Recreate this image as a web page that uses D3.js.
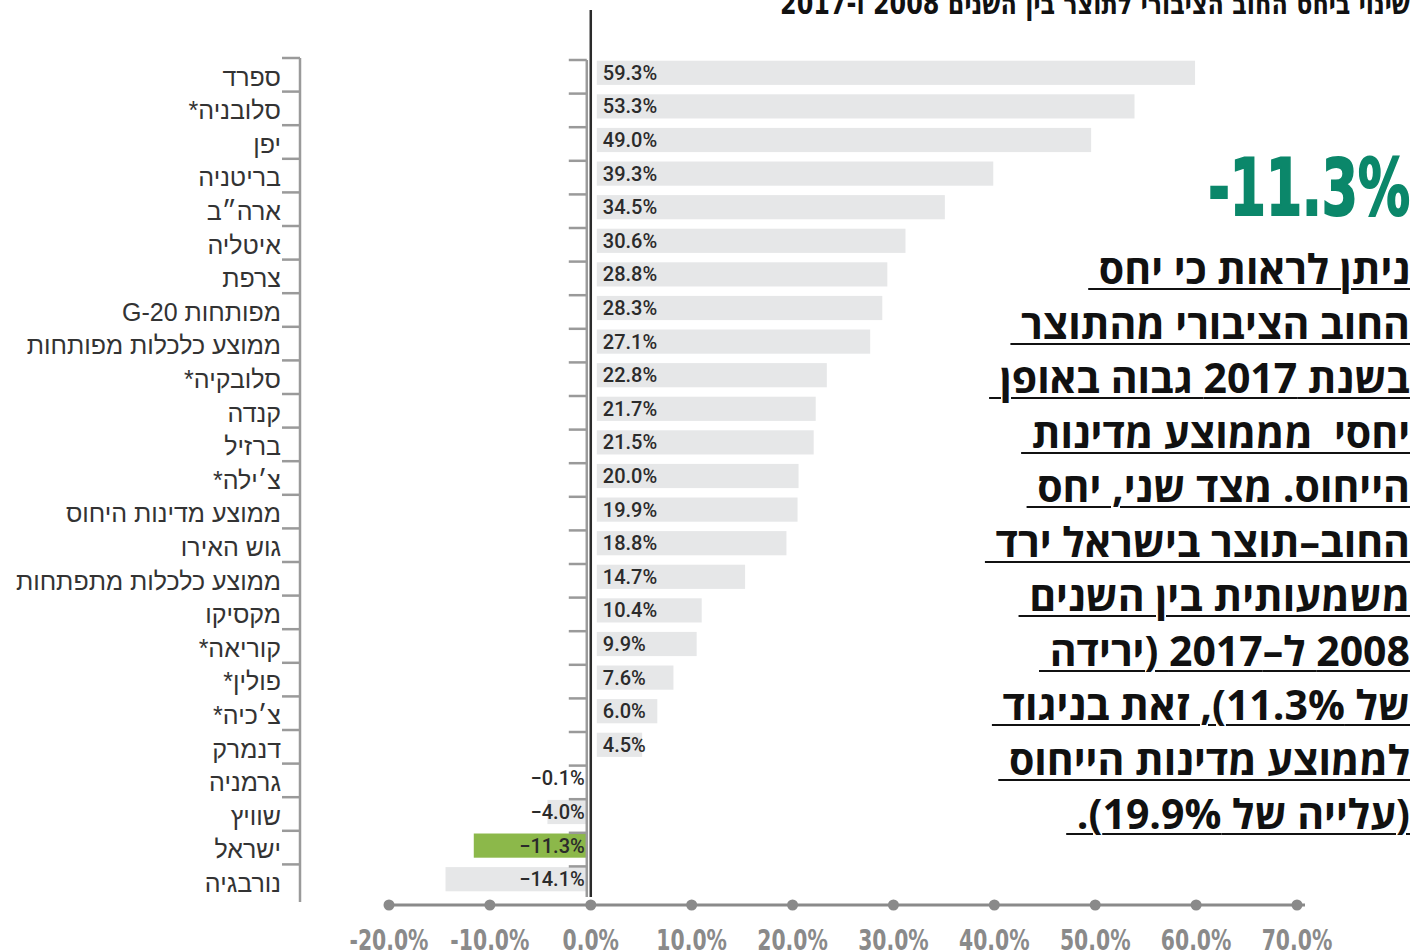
<!DOCTYPE html>
<html lang="he">
<head>
<meta charset="utf-8">
<script src="https://cdn.jsdelivr.net/npm/d3@7/dist/d3.min.js"></script>
<style>
  html, body { margin: 0; padding: 0; background: #fff; }
  #wrap { position: relative; width: 1413px; height: 952px; overflow: hidden; }
  svg { position: absolute; left: 0; top: 0; }
  #para { position: absolute; right: 3px; top: 241px; direction: rtl; text-align: right;
          font-family: "Open Sans", "DejaVu Sans", sans-serif; font-weight: 700; font-size: 41px;
          line-height: 54.5px; color: #111; }
  #para div { white-space: pre; height: 54.5px; }
  #para span { text-decoration: underline; text-decoration-thickness: 2px; text-underline-offset: 4px; }
</style>
</head>
<body>
<div id="wrap"></div>
<script>
// ---------- data ----------
const categories = [
  "ספרד", "סלובניה*", "יפן", "בריטניה", "ארה\u05F4ב", "איטליה", "צרפת", "מפותחות G-20",
  "ממוצע כלכלות מפותחות", "סלובקיה*", "קנדה", "ברזיל", "צ׳ילה*", "ממוצע מדינות היחוס",
  "גוש האירו", "ממוצע כלכלות מתפתחות", "מקסיקו", "קוריאה*", "פולין*", "צ׳כיה*", "דנמרק",
  "גרמניה", "שוויץ", "ישראל", "נורבגיה"
];
const values = [59.3, 53.3, 49.0, 39.3, 34.5, 30.6, 28.8, 28.3, 27.1, 22.8, 21.7, 21.5, 20.0,
  19.9, 18.8, 14.7, 10.4, 9.9, 7.6, 6.0, 4.5, -0.1, -4.0, -11.3, -14.1];
const highlight = "ישראל";
const xTicks = [-20, -10, 0, 10, 20, 30, 40, 50, 60, 70];
const title = "שינוי ביחס החוב הציבורי לתוצר בין השנים 2008 ו-2017";
const bigNumber = "-11.3%";
const paragraphLines = [
  "ניתן לראות כי יחס ",
  "החוב הציבורי מהתוצר ",
  "בשנת 2017 גבוה באופן ",
  "יחסי  מממוצע מדינות ",
  "הייחוס. מצד שני, יחס ",
  "החוב–תוצר בישראל ירד ",
  "משמעותית בין השנים ",
  "2008 ל–2017 (ירידה ",
  "של 11.3%), זאת בניגוד ",
  "לממוצע מדינות הייחוס ",
  "(עלייה של 19.9%). "
];

// ---------- layout ----------
const W = 1413, H = 952;
const data = categories.map((c, i) => ({ cat: c, val: values[i] }));
const wrap = d3.select("#wrap");
const svg = wrap.append("svg").attr("width", W).attr("height", H);

const x = d3.scaleLinear().domain([-20, 70]).range([389, 1297]);
const y = d3.scaleBand().domain(categories).range([58, 898]).paddingInner(0.28).paddingOuter(0.14);
const band = d3.scaleBand().domain(categories).range([58, 898]).padding(0);
const boundaries = categories.map(c => band(c)).concat([band.range()[1]]);

const fmt = v => (v < 0 ? "\u2212" : "") + Math.abs(v).toFixed(1) + "%";

// title (partly cut at top)
svg.append("text")
  .attr("x", 1410).attr("y", 14)
  .attr("direction", "rtl").attr("text-anchor", "start")
  .attr("textLength", 630).attr("lengthAdjust", "spacingAndGlyphs")
  .style("font-family", "'DejaVu Sans Condensed', 'DejaVu Sans', sans-serif")
  .style("font-weight", 700).style("font-size", "30px").attr("fill", "#111")
  .text(title);

// bars
svg.append("g").selectAll("rect").data(data).join("rect")
  .attr("x", d => d.val >= 0 ? x(0) + 6 : x(d.val) - 3)
  .attr("y", d => y(d.cat) - 2)
  .attr("width", d => Math.max(1, Math.abs(x(d.val) - x(0))))
  .attr("height", y.bandwidth())
  .attr("fill", d => d.cat === highlight ? "#8cb84a" : "#e6e7e8");

// inner gray ticks near zero
const zx = x(0);
svg.append("line").attr("x1", zx - 4).attr("x2", zx - 4)
  .attr("y1", boundaries[0] + 2).attr("y2", 897).attr("stroke", "#9a9a9a").attr("stroke-width", 2.5);
svg.append("g").selectAll("line").data(boundaries.slice(0, -1)).join("line")
  .attr("x1", zx - 22).attr("x2", zx - 4)
  .attr("y1", d => d + 2).attr("y2", d => d + 2)
  .attr("stroke", "#9a9a9a").attr("stroke-width", 2.5);

// zero line
svg.append("line").attr("x1", zx).attr("x2", zx).attr("y1", 10).attr("y2", 897)
  .attr("stroke", "#2b2b2b").attr("stroke-width", 2.5);

// bar value labels
svg.append("g").selectAll("text").data(data).join("text")
  .attr("x", d => d.val >= 0 ? x(0) + 12 : x(0) - 6)
  .attr("y", d => y(d.cat) - 2 + y.bandwidth() / 2 + 7)
  .attr("text-anchor", d => d.val >= 0 ? "start" : "end")
  .style("font-family", "Roboto, 'DejaVu Sans', sans-serif")
  .style("font-weight", 500).style("font-size", "20px").attr("fill", "#2b2b2b")
  .text(d => fmt(d.val));

// left category axis
const ax = 300;
svg.append("line").attr("x1", ax).attr("x2", ax).attr("y1", boundaries[0]).attr("y2", 902)
  .attr("stroke", "#9a9a9a").attr("stroke-width", 2.5);
svg.append("g").selectAll("line").data(boundaries.slice(0, -1)).join("line")
  .attr("x1", ax - 18).attr("x2", ax).attr("y1", d => d).attr("y2", d => d)
  .attr("stroke", "#9a9a9a").attr("stroke-width", 2.5);
svg.append("g").selectAll("text").data(categories).join("text")
  .attr("x", 281).attr("y", d => band(d) + band.bandwidth() - 6)
  .attr("direction", "rtl").attr("text-anchor", "start")
  .style("font-family", "'Liberation Sans', Arial, sans-serif")
  .style("font-size", "25px").attr("fill", "#333")
  .text(d => d);

// bottom axis
const axY = 905;
svg.append("line").attr("x1", x(-20)).attr("x2", x(70) + 8).attr("y1", axY).attr("y2", axY)
  .attr("stroke", "#8a8a8a").attr("stroke-width", 3);
svg.append("g").selectAll("circle").data(xTicks).join("circle")
  .attr("cx", d => x(d)).attr("cy", axY).attr("r", 5.5).attr("fill", "#8a8a8a");
svg.append("g").selectAll("text").data(xTicks).join("text")
  .attr("transform", d => `translate(${x(d)},950) scale(0.78,1)`)
  .attr("text-anchor", "middle")
  .style("font-family", "'DejaVu Sans Condensed', 'DejaVu Sans', sans-serif")
  .style("font-weight", 700).style("font-size", "29px").attr("fill", "#8a8a8a")
  .text(d => d.toFixed(1) + "%");

// big number
svg.append("text")
  .attr("transform", "translate(1410,215) scale(0.74,1)")
  .attr("text-anchor", "end")
  .style("font-family", "'DejaVu Sans Condensed', 'DejaVu Sans', sans-serif")
  .style("font-weight", 800).style("font-size", "78px").attr("fill", "#0b876a")
  .attr("stroke", "#0b876a").attr("stroke-width", 2)
  .text(bigNumber);

// paragraph
wrap.append("div").attr("id", "para")
  .selectAll("div").data(paragraphLines).join("div")
  .append("span").text(d => d);
</script>
</body>
</html>
